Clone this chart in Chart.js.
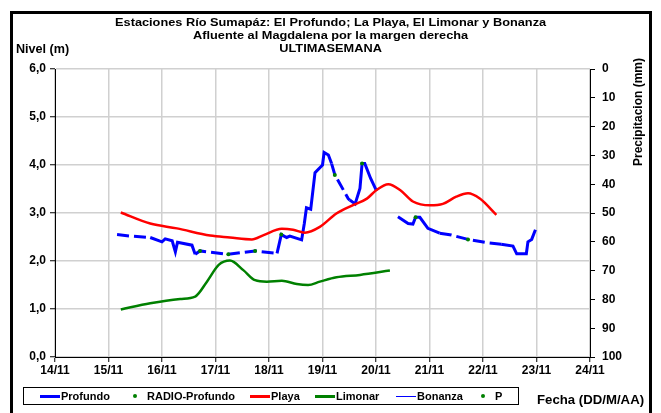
<!DOCTYPE html>
<html>
<head>
<meta charset="utf-8">
<script src="https://cdn.jsdelivr.net/npm/chart.js@4"></script>
<style>
  body { margin: 0; background: #fff; font-family: "Liberation Sans", Arial, sans-serif; }
  #wrap { position: relative; width: 661px; height: 413px; overflow: hidden; }
  #frame { position: absolute; left: 10px; top: 11px; width: 636px; height: 420px; border: 3px solid #000; }
  .t { position: absolute; font-weight: bold; font-size: 11px; color: #000; white-space: nowrap; }
  #titulo { left: 0; width: 661px; top: 16px; text-align: center; line-height: 13px; transform: scaleX(1.16); transform-origin: 330px 0; }
  #legend { position: absolute; left: 23px; top: 387px; width: 494px; height: 16px; border: 1px solid #000; }
  .li { position: absolute; top: 2px; font-weight: bold; font-size: 11px; display: flex; align-items: center; }
  .ln { display: inline-block; width: 20px; height: 3px; margin-right: 1px; }
  .dot { display: inline-block; width: 4px; height: 4px; border-radius: 2px; background: #008000; margin-right: 10px; }
</style>
</head>
<body>
<div id="wrap">
  <canvas id="grafico" width="661" height="413"></canvas>
  <div id="frame"></div>
  <div class="t" id="titulo">Estaciones Río Sumapáz: El Profundo; La Playa, El Limonar y Bonanza<br>Afluente al Magdalena por la margen derecha<br>ULTIMASEMANA</div>
  <div class="t" style="left:16px; top:42px; font-size:12px; transform: scaleX(1.05); transform-origin: 0 0;">Nivel (m)</div>
  <div class="t" style="left:581px; top:104px; font-size:12px; transform: rotate(-90deg); transform-origin: 56px 6px; width:112px;">Precipitacion (mm)</div>
  <div class="t" style="left:537px; top:393px; font-size:12px; transform: scaleX(1.1); transform-origin: 0 0;">Fecha (DD/M/AA)</div>
  <div id="legend">
    <div class="li" style="left:16px;"><span class="ln" style="background:#0000ff"></span>Profundo</div>
    <div class="li" style="left:109px;"><span class="dot"></span>RADIO-Profundo</div>
    <div class="li" style="left:226px;"><span class="ln" style="background:#ff0000"></span>Playa</div>
    <div class="li" style="left:291px;"><span class="ln" style="background:#008000"></span>Limonar</div>
    <div class="li" style="left:372px;"><span class="ln" style="background:#0000ff;height:1px"></span>Bonanza</div>
    <div class="li" style="left:457px;"><span class="dot"></span>P</div>
  </div>
</div>
<script>
// etiquetas del eje x (dias)
const xLabels = ['14/11', '15/11', '16/11', '17/11', '18/11', '19/11', '20/11', '21/11', '22/11', '23/11', '24/11'];

// Profundo (nivel m)
const profX = [15.16, 15.41, 15.78, 16.00, 16.06, 16.19, 16.25, 16.29, 16.56, 16.62, 16.71, 17.24, 17.74, 18.15,
  18.23, 18.33, 18.39, 18.61, 18.66, 18.70, 18.78, 18.86, 19.00, 19.03, 19.11, 19.17, 19.23, 19.48, 19.51, 19.61,
  19.70, 19.74, 19.79, 19.90, 20.01, 20.2, 20.41, 20.60, 20.69, 20.74, 20.82, 20.97, 21.19, 21.41, 21.72, 22.09,
  22.34, 22.56, 22.63, 22.81, 22.84, 22.91, 22.98];
const profY = [2.55, 2.52, 2.49, 2.40, 2.46, 2.42, 2.19, 2.39, 2.33, 2.14, 2.21, 2.14, 2.21, 2.16,
  2.55, 2.49, 2.52, 2.44, 2.78, 3.11, 3.08, 3.84, 4.00, 4.26, 4.21, 4.03, 3.80, 3.30, 3.27, 3.19,
  3.51, 4.03, 4.03, 3.72, 3.46, null, 2.92, 2.78, 2.77, 2.91, 2.91, 2.68, 2.58, 2.54, 2.45, 2.38,
  2.35, 2.31, 2.15, 2.15, 2.40, 2.45, 2.65];
// tramos con linea discontinua
const profDash = [[15.1, 15.78], [16.62, 18.15], [19.17, 19.51], [21.19, 22.34]];

// RADIO-Profundo
const radioX = [16.71, 17.24, 17.74, 18.23, 19.23, 19.74, 20.74, 21.72];
const radioY = [2.21, 2.14, 2.21, 2.55, 3.79, 4.03, 2.91, 2.45];

// Playa
const playaX = [15.23, 15.78, 16.28, 16.90, 17.27, 17.68, 17.90, 18.24, 18.45, 18.67, 18.95, 19.26, 19.58, 19.83,
  20.01, 20.23, 20.45, 20.69, 21.01, 21.25, 21.50, 21.72, 21.94, 22.25];
const playaY = [3.01, 2.78, 2.68, 2.53, 2.49, 2.45, 2.54, 2.67, 2.65, 2.59, 2.71, 2.99, 3.17, 3.30,
  3.48, 3.60, 3.48, 3.24, 3.16, 3.19, 3.34, 3.41, 3.30, 2.96];

// Limonar
const limX = [15.23, 15.78, 16.34, 16.62, 16.84, 17.06, 17.27, 17.52, 17.74, 17.96, 18.24, 18.52, 18.73, 18.95, 19.26, 19.70, 20.26];
const limY = [0.99, 1.12, 1.21, 1.26, 1.57, 1.92, 2.01, 1.81, 1.60, 1.57, 1.59, 1.52, 1.50, 1.57, 1.66, 1.71, 1.80];

// Bonanza y precipitacion: sin datos en la semana
const bonX = [];
const bonY = [];
const pX = [];
const pY = [];

const pares = (xs, ys) => xs.map((x, i) => ({ x: x, y: ys[i] }));
const enDash = (x) => profDash.some(r => x >= r[0] && x < r[1]);

const fuente = { family: '"Liberation Sans", Arial, sans-serif', size: 12, weight: 'bold' };

const data = {
  datasets: [
    {
      label: 'RADIO-Profundo', data: pares(radioX, radioY), showLine: false,
      pointRadius: 2, pointBackgroundColor: '#008000', pointBorderWidth: 0, order: 0
    },
    {
      label: 'Profundo', data: pares(profX, profY), borderColor: '#0000ff', borderWidth: 3,
      pointRadius: 0, tension: 0, spanGaps: false, order: 2,
      segment: { borderDash: ctx => enDash(ctx.p0.parsed.x) ? [12, 5] : undefined }
    },
    {
      label: 'Playa', data: pares(playaX, playaY), borderColor: '#ff0000', borderWidth: 2.5,
      pointRadius: 0, cubicInterpolationMode: 'monotone', order: 1
    },
    {
      label: 'Limonar', data: pares(limX, limY), borderColor: '#008000', borderWidth: 2.5,
      pointRadius: 0, cubicInterpolationMode: 'monotone', order: 1
    },
    {
      label: 'Bonanza', data: pares(bonX, bonY), borderColor: '#0000ff', borderWidth: 1, pointRadius: 0
    },
    {
      label: 'P', data: pares(pX, pY), yAxisID: 'y2', showLine: false,
      pointRadius: 2, pointBackgroundColor: '#008000'
    }
  ]
};

const options = {
  responsive: false,
  animation: false,
  layout: { padding: { left: 25, right: 26, top: 69, bottom: 31 } },
  plugins: { legend: { display: false }, tooltip: { enabled: false } },
  scales: {
    x: {
      type: 'linear', min: 14, max: 24,
      afterFit: s => { s.height = 25; },
      ticks: { stepSize: 1, color: '#000', font: fuente, padding: 1, maxRotation: 0,
        callback: v => xLabels[v - 14] },
      grid: { color: '#d0d0d0', lineWidth: 1.5, tickColor: '#000', tickLength: 5, tickWidth: 1 },
      border: { color: '#000', width: 1 }
    },
    y: {
      min: 0, max: 6,
      afterFit: s => { s.width = 30; },
      ticks: { stepSize: 1, color: '#000', font: fuente, padding: 4,
        callback: v => v.toFixed(1).replace('.', ',') },
      grid: { color: '#d0d0d0', lineWidth: 1.5, tickColor: '#000', tickLength: 5, tickWidth: 1 },
      border: { color: '#000', width: 1 }
    },
    y2: {
      position: 'right', reverse: true, min: 0, max: 100,
      afterFit: s => { s.width = 45; },
      ticks: { stepSize: 10, color: '#000', font: fuente, padding: 7 },
      grid: { drawOnChartArea: false, tickColor: '#000', tickLength: 5 },
      border: { color: '#000', width: 1 }
    }
  }
};

window.onload = () => {
  const ctx = document.getElementById('grafico').getContext('2d');
  new Chart(ctx, { type: 'line', data: data, options: options });
};
</script>
</body>
</html>
